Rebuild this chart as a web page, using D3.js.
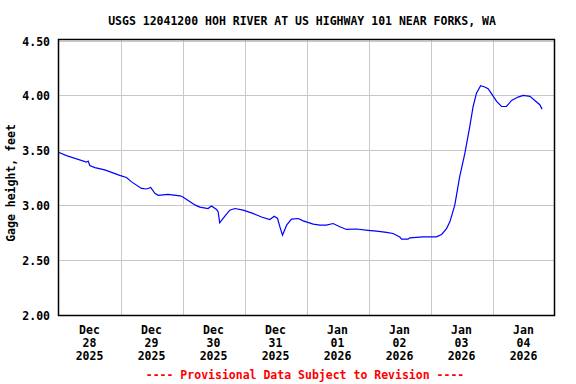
<!DOCTYPE html>
<html>
<head>
<meta charset="utf-8">
<script src="https://cdn.jsdelivr.net/npm/d3@7"></script>
<style>
  html, body { margin: 0; padding: 0; background: #fff; }
  svg text { font-family: "DejaVu Sans Mono", monospace; font-weight: bold; font-size: 11.5px; }
</style>
</head>
<body>
<svg id="chart" width="576" height="384"></svg>
<script>
// ---- data (hours since 2025-12-28 00:00, gage height in feet) ----
const title = "USGS 12041200 HOH RIVER AT US HIGHWAY 101 NEAR FORKS, WA";
const yLabel = "Gage height, feet";
const footer = "---- Provisional Data Subject to Revision ----";
const startTime = "2025-12-28T00:00:00";
const endTime = "2026-01-05T00:00:00";
const hours = [0, 3.1, 10.8, 11.5, 12.1, 14.1, 17.9, 23.7, 26.3, 28.3, 32.1, 34.1, 35.7, 37.3, 38.6,
  42.4, 47.0, 48.0, 50.2, 52.8, 54.7, 57.9, 59.2, 61.2, 61.8, 62.4, 64.4, 66.3, 68.3, 71.5,
  74.7, 78.6, 81.8, 83.5, 84.8, 85.7, 86.7, 88.3, 90.2, 92.8, 94.7, 98.6, 101.2, 103.7, 106.3,
  108.9, 111.5, 115.4, 119.8, 123.1, 127.0, 129.5, 132.1, 132.8, 135.3, 136.0, 141.1, 146.3,
  148.3, 150.2, 151.5, 153.4, 155.3, 157.3, 159.2, 160.5, 161.8, 163.4, 165.0, 166.3, 167.6,
  169.6, 171.5, 173.4, 175.4, 177.9, 179.9, 182.5, 184.4, 186.3, 187.2];
const gage = [3.48, 3.45, 3.39, 3.40, 3.36, 3.34, 3.32, 3.27, 3.25, 3.21, 3.15, 3.145, 3.16, 3.105, 3.087,
  3.096, 3.083, 3.074, 3.04, 3.00, 2.98, 2.967, 2.99, 2.958, 2.936, 2.836, 2.897, 2.952, 2.967, 2.952,
  2.927, 2.89, 2.867, 2.897, 2.876, 2.80, 2.723, 2.815, 2.87, 2.876, 2.854, 2.824, 2.815, 2.815, 2.83,
  2.80, 2.776, 2.78, 2.768, 2.76, 2.75, 2.739, 2.708, 2.687, 2.687, 2.70, 2.708, 2.708,
  2.73, 2.784, 2.845, 2.998, 3.257, 3.471, 3.715, 3.898, 4.02, 4.088, 4.076, 4.06, 4.015,
  3.944, 3.898, 3.898, 3.953, 3.984, 3.999, 3.99, 3.953, 3.914, 3.874];
const yTicks = [2.0, 2.5, 3.0, 3.5, 4.0, 4.5];
const dayLabels = [
  ["Dec", "28", "2025"], ["Dec", "29", "2025"], ["Dec", "30", "2025"], ["Dec", "31", "2025"],
  ["Jan", "01", "2026"], ["Jan", "02", "2026"], ["Jan", "03", "2026"], ["Jan", "04", "2026"]
];

// ---- chart ----
const svg = d3.select("#chart");
const t0 = new Date(startTime), t1 = new Date(endTime);
const x = d3.scaleTime().domain([t0, t1]).range([58.5, 554.5]);
const y = d3.scaleLinear().domain([2.0, 4.5]).range([314.5, 40.5]);
const hourMs = 3600 * 1000;
const data = hours.map((h, i) => ({ t: new Date(t0.getTime() + h * hourMs), v: gage[i] }));
const days = d3.timeDay.range(t0, t1);

// gridlines
const grid = svg.append("g").attr("stroke", "#c8c8c8").attr("stroke-width", 1);
grid.selectAll("line.h").data(yTicks).join("line")
  .attr("x1", 58.5).attr("x2", 554.5)
  .attr("y1", d => Math.round(y(d)) + 0.5).attr("y2", d => Math.round(y(d)) + 0.5);
grid.selectAll("line.v").data(days.slice(1)).join("line")
  .attr("x1", d => Math.round(x(d)) + 0.5).attr("x2", d => Math.round(x(d)) + 0.5)
  .attr("y1", 40).attr("y2", 315);

// data line
const line = d3.line().x(d => x(d.t)).y(d => y(d.v));
svg.append("path").datum(data)
  .attr("fill", "none").attr("stroke", "#0000ff").attr("stroke-width", 1.2)
  .attr("d", line);

// frame
svg.append("rect").attr("x", 58.5).attr("y", 39.5).attr("width", 496).attr("height", 276)
  .attr("fill", "none").attr("stroke", "#000").attr("stroke-width", 1.5);

// y tick labels
svg.append("g").selectAll("text").data(yTicks).join("text")
  .attr("x", 50).attr("y", d => y(d) + 5)
  .attr("text-anchor", "end").attr("fill", "#000")
  .text(d3.format(".2f"));

// x labels
const xl = svg.append("g").selectAll("text").data(days).join("text")
  .attr("text-anchor", "middle").attr("fill", "#000")
  .attr("x", d => x(new Date(d.getTime() + 12 * hourMs)));
xl.each(function (d, i) {
  const el = d3.select(this);
  dayLabels[i].forEach((s, k) => {
    el.append("tspan").attr("x", el.attr("x")).attr("y", 334 + k * 13).text(s);
  });
});

// title
svg.append("text").attr("x", 302).attr("y", 25).attr("text-anchor", "middle")
  .attr("fill", "#000").text(title);

// y axis label
svg.append("text").attr("transform", "translate(15,183) rotate(-90)")
  .attr("text-anchor", "middle").attr("fill", "#000").text(yLabel);

// footer
svg.append("text").attr("x", 305).attr("y", 379).attr("text-anchor", "middle")
  .attr("fill", "#ff0000").text(footer);
</script>
</body>
</html>
